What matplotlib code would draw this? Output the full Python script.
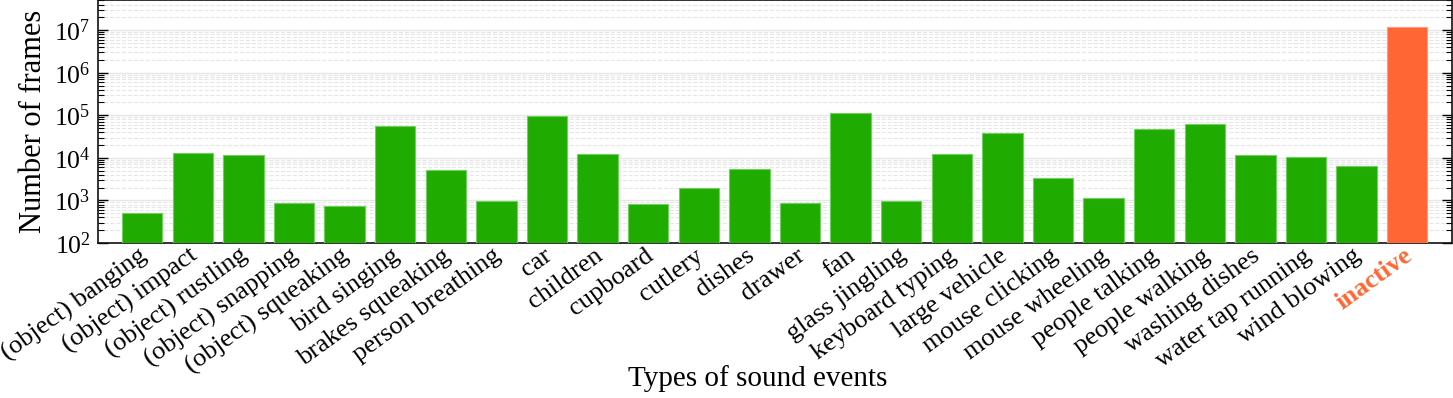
import matplotlib
matplotlib.use("Agg")
import matplotlib.pyplot as plt
import matplotlib.ticker as mticker
import matplotlib.transforms as mtransforms
import numpy as np

# ---- data ----
events = ["(object) banging", "(object) impact", "(object) rustling",
          "(object) snapping", "(object) squeaking", "bird singing",
          "brakes squeaking", "person breathing", "car", "children",
          "cupboard", "cutlery", "dishes", "drawer", "fan", "glass jingling",
          "keyboard typing", "large vehicle", "mouse clicking",
          "mouse wheeling", "people talking", "people walking",
          "washing dishes", "water tap running", "wind blowing", "inactive"]
frames = [520, 12700, 12000, 870, 740, 55000,
          5150, 960, 98000, 12600,
          815, 1930, 5560, 860, 114000, 980,
          12300, 37600, 3400,
          1150, 48000, 62000,
          12000, 10500, 6600, 11700000]

GREEN = "#1fab00"
GREEN_EDGE = "#6fd060"
ORANGE = "#ff6633"

plt.rcParams["font.family"] = ["Liberation Serif", "DejaVu Serif"]
plt.rcParams["mathtext.fontset"] = "stix"

fig = plt.figure(figsize=(14.53, 3.98), dpi=100)
ax = fig.add_axes([0.0672, 0.3894, 0.9319, 0.6096])

x = np.arange(len(events))
colors = [GREEN] * (len(events) - 1) + [ORANGE]
edges = [GREEN_EDGE] * (len(events) - 1) + ["#ff9a7a"]
ax.bar(x, frames, width=0.8, color=colors, edgecolor=edges, linewidth=0.8,
       zorder=3)

ax.set_yscale("log")
ax.set_ylim(100, 5e7)
ax.set_xlim(-0.88, len(events) - 1 + 0.88)

ax.yaxis.set_major_locator(mticker.LogLocator(base=10, numticks=20))
ax.yaxis.set_minor_locator(mticker.LogLocator(base=10, subs=np.arange(2, 10),
                                              numticks=20))
ax.yaxis.set_minor_formatter(mticker.NullFormatter())

ax.grid(which="major", axis="y", color="#e6e6e6", lw=1.0, zorder=0)
ax.grid(which="minor", axis="y", color="#e6e6e6", lw=0.8, ls="--", zorder=0)

ax.tick_params(axis="y", which="major", direction="in", length=7, width=1,
               left=True, right=True, labelsize=18.5, pad=5)
ax.tick_params(axis="y", which="minor", direction="in", length=4, width=0.8,
               left=True, right=True)
ax.tick_params(axis="x", which="both", length=0, pad=11)

ax.set_xticks(x)
ax.set_xticklabels(events, rotation=36, ha="right", va="baseline",
                   rotation_mode="anchor", fontsize=19)
# labels end a little to the right of the bar centre in the reference
shift = mtransforms.ScaledTranslation(6 / 100, 0, fig.dpi_scale_trans)
for lab in ax.get_xticklabels():
    lab.set_transform(lab.get_transform() + shift)
lab = ax.get_xticklabels()[-1]
lab.set_color(ORANGE)
lab.set_fontweight("bold")

for s in ax.spines.values():
    s.set_linewidth(1.2)
    s.set_color("#111111")

ax.set_ylabel("Number of frames", fontsize=22)
ax.yaxis.set_label_coords(-0.037, 0.5)
ax.set_xlabel("Types of sound events", fontsize=21)
ax.xaxis.set_label_coords(0.4877, -0.502)

fig.savefig("out.png", dpi=100)
